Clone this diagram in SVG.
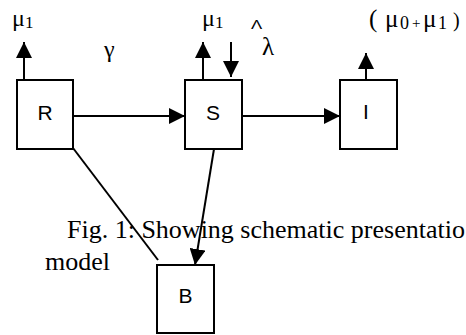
<svg xmlns="http://www.w3.org/2000/svg" width="466" height="335" viewBox="0 0 466 335">
<style>
.box{fill:#fff;stroke:#000;stroke-width:2}
.lbl{font-family:"Liberation Sans",Arial,sans-serif;font-size:21px;fill:#000;text-anchor:middle}
.gr{font-family:"Liberation Serif","Times New Roman",serif;fill:#000}
.ln{stroke:#000;stroke-width:2;fill:none}
</style>
<defs>
<marker id="ah" markerUnits="userSpaceOnUse" markerWidth="16" markerHeight="16" refX="15" refY="7.5" orient="auto" viewBox="0 0 15 15">
<path d="M0,0 L15,7.5 L0,15 z" fill="#000"/>
</marker>
</defs>
<g id="connectors">
<line class="ln" x1="73" y1="116" x2="185" y2="116" marker-end="url(#ah)"/>
<line class="ln" x1="242" y1="116" x2="340" y2="116" marker-end="url(#ah)"/>
<line class="ln" x1="73" y1="148" x2="158" y2="260"/>
<line class="ln" x1="214" y1="149" x2="195" y2="265" marker-end="url(#ah)"/>
<line class="ln" x1="24" y1="80" x2="24" y2="42" marker-end="url(#ah)"/>
<line class="ln" x1="203" y1="80" x2="203" y2="42" marker-end="url(#ah)"/>
<line class="ln" x1="231" y1="42" x2="231" y2="77" marker-end="url(#ah)"/>
<line class="ln" x1="366" y1="80" x2="366" y2="53" marker-end="url(#ah)"/>
</g>
<g id="R"><rect class="box" x="17" y="80" width="56" height="69"/><text class="lbl" x="45" y="120">R</text></g>
<g id="S"><rect class="box" x="185" y="80" width="57" height="69"/><text class="lbl" x="213" y="120">S</text></g>
<g id="I"><rect class="box" x="340" y="80" width="57" height="69"/><text class="lbl" x="366" y="119">I</text></g>
<g id="B"><rect class="box" x="157" y="265" width="57" height="68"/><text class="lbl" x="185.5" y="303" font-size="23">B</text></g>
<g id="labels">
<text class="gr" x="12" y="26" font-size="24">μ<tspan font-size="17" dy="2">1</tspan></text>
<text class="gr" x="202" y="26" font-size="24">μ<tspan font-size="17" dy="2">1</tspan></text>
<text class="gr" x="104" y="57" font-size="24">γ</text>
<text transform="translate(251,28.5) scale(1.4,1)" font-family="Liberation Sans, Arial, sans-serif" font-size="12">Λ</text>
<text class="gr" x="262" y="55" font-size="25">λ</text>
<text class="gr" y="27" font-size="25"><tspan x="369">(</tspan><tspan x="385">μ</tspan><tspan x="400" font-size="18" dy="2">0</tspan><tspan x="412" font-size="15" dy="-1">+</tspan><tspan x="423" dy="-1">μ</tspan><tspan x="438" font-size="18" dy="2">1</tspan><tspan x="453" font-size="20" dy="-2">)</tspan></text>
<text class="gr" x="67" y="238" font-size="26">Fig. 1: Showing schematic presentatio</text>
<text class="gr" x="45" y="270" font-size="26">model</text>
</g>
</svg>
